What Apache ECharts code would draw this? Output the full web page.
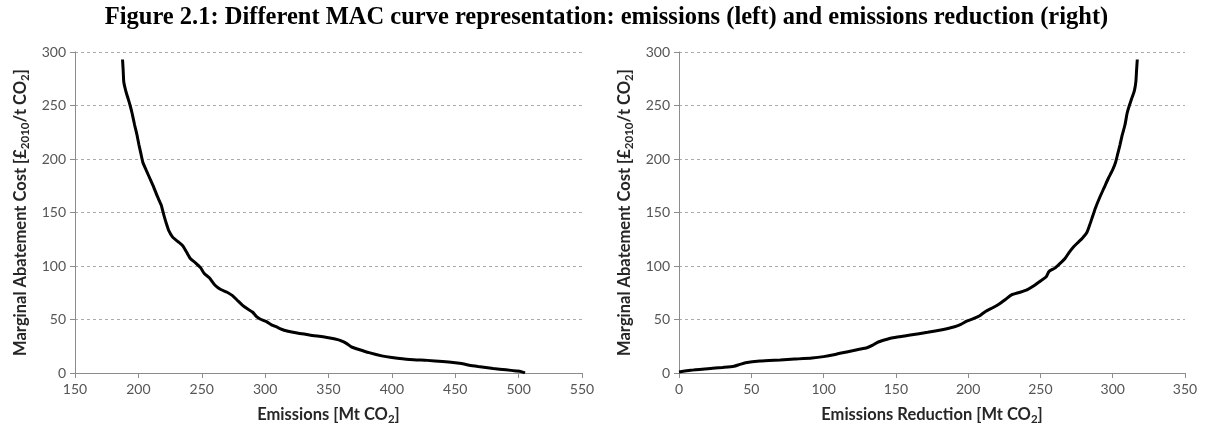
<!DOCTYPE html>
<html>
<head>
<meta charset="utf-8">
<style>
  html, body { margin: 0; padding: 0; background: #fff; }
  #chart { width: 1213px; height: 439px; }
</style>
<script src="https://cdn.jsdelivr.net/npm/echarts@6/dist/echarts.min.js"></script>
</head>
<body>
<div id="chart"></div>
<script>
// MAC curve against total emissions: [emissions Mt CO2, cost £2010/t CO2]
const emissionsCurve = [
  [187.5, 293], [188, 283], [188.5, 272], [190, 264], [192, 256], [193.5, 250],
  [195, 243], [197, 232], [199, 222], [200.5, 213], [202, 205], [203.5, 197],
  [206, 190], [209, 182], [212, 174], [215, 165], [218, 157], [220, 148],
  [222, 140], [224, 133], [227, 127], [231, 123], [235, 119], [238, 113],
  [241, 107], [245, 103], [249, 98.5], [252, 93], [256, 89], [260.5, 82],
  [265, 78], [270, 75.5], [274, 72.5], [278, 68], [282, 63.5], [286, 60],
  [290, 57], [293, 53], [296, 50.5], [301, 48], [305, 45], [309, 43],
  [315, 40], [322, 38], [335, 35.5], [350, 33], [358, 31], [362, 29],
  [365, 27], [368, 24.5], [374, 22], [382, 19], [392, 16], [400, 14.5],
  [414, 12.6], [428, 11.8], [440, 10.8], [450, 9.6], [456, 8.6], [461, 7.2],
  [468, 6], [480, 4.2], [490, 3], [498, 1.9], [502, 1.3], [504, 0.5], [505, 0]
];

// MAC curve against emissions reduction: [reduction Mt CO2, cost £2010/t CO2]
const reductionCurve = [
  [0, 1], [8, 2.5], [20, 4], [30, 5.2], [38, 6.3], [42, 8], [46, 9.6],
  [56, 11.2], [70, 12.2], [80, 13], [92, 14], [100, 15.3], [108, 17.3],
  [116, 19.7], [124, 22], [130, 23.6], [134, 26], [137, 28.5], [142, 30.8],
  [148, 33], [160, 35.5], [172, 38], [182, 40.5], [190, 43], [195, 45.5],
  [199, 48.5], [204, 51], [208, 53.5], [212, 57.5], [217, 61], [222, 65],
  [226, 69], [230, 73], [236, 75.5], [241, 78], [246, 82], [250, 86],
  [254, 90], [256, 95], [260, 98], [264, 103], [267, 107], [270, 113],
  [273, 118], [276, 122], [279, 126], [282, 131], [284, 138], [286, 146],
  [288, 154], [291, 164], [294, 173], [297, 182], [300, 190], [302, 197],
  [303.5, 205], [305, 213], [306.5, 222], [308.5, 232], [310, 243],
  [311.5, 250], [313, 256], [315, 264], [316, 272], [316.5, 283], [317, 293]
];

// Axis ranges
const costAxis = { min: 0, max: 300, step: 50 };
const emissionsAxis = { min: 150, max: 550, step: 50 };
const reductionAxis = { min: 0, max: 350, step: 50 };

const titleText = 'Figure 2.1: Different MAC curve representation: emissions (left) and emissions reduction (right)';
const costName = '{n|Marginal Abatement Cost [£}{s|2010}{n|/t CO}{s|2}{n|]}';
const emissionsName = '{n|Emissions [Mt CO}{s|2}{n|]}';
const reductionName = '{n|Emissions Reduction [Mt CO}{s|2}{n|]}';

const FONT = 'Lato, "Open Sans", sans-serif';
const axisGrey = '#8c8c8c';

const nameRich = {
  n: { fontFamily: FONT, fontSize: 16.5, fontWeight: 'bold', color: '#262626', lineHeight: 20 },
  s: { fontFamily: FONT, fontSize: 11.5, fontWeight: 'bold', color: '#262626', lineHeight: 11, verticalAlign: 'bottom' }
};

function xAxisDef(gridIndex, range, name) {
  return {
    type: 'value', gridIndex,
    min: range.min, max: range.max, interval: range.step,
    name, nameLocation: 'middle', nameGap: 32,
    nameTextStyle: { rich: nameRich },
    axisLine: { show: true, onZero: false, lineStyle: { color: axisGrey, width: 1 } },
    axisTick: { show: true, length: 5, lineStyle: { color: axisGrey } },
    axisLabel: { fontFamily: FONT, fontSize: 14, color: '#555555', margin: 9 },
    splitLine: { show: false }
  };
}

function yAxisDef(gridIndex) {
  return {
    type: 'value', gridIndex,
    min: costAxis.min, max: costAxis.max, interval: costAxis.step,
    name: costName, nameLocation: 'middle', nameGap: 44, nameRotate: 90,
    nameTextStyle: { rich: nameRich },
    axisLine: { show: true, lineStyle: { color: axisGrey, width: 1 } },
    axisTick: { show: true, length: 5, lineStyle: { color: axisGrey } },
    axisLabel: { fontFamily: FONT, fontSize: 14, color: '#555555', margin: 9 },
    splitLine: { show: true, lineStyle: { color: '#ababab', type: [3, 3], width: 1 } }
  };
}

function curve(index, data) {
  return {
    type: 'line', xAxisIndex: index, yAxisIndex: index,
    data, showSymbol: false, smooth: 0.2,
    lineStyle: { color: '#000', width: 3 },
    silent: true, animation: false
  };
}

const chart = echarts.init(document.getElementById('chart'), null, { renderer: 'canvas' });
chart.setOption({
  backgroundColor: '#fff',
  animation: false,
  title: {
    text: titleText, left: 'center', top: 0,
    textStyle: { fontFamily: '"Liberation Serif", "Times New Roman", serif', fontSize: 24.5, fontWeight: 'bold', color: '#000' }
  },
  grid: [
    { left: 75, top: 52, width: 507, height: 321, containLabel: false },
    { left: 679, top: 52, width: 506, height: 321, containLabel: false }
  ],
  xAxis: [
    xAxisDef(0, emissionsAxis, emissionsName),
    xAxisDef(1, reductionAxis, reductionName)
  ],
  yAxis: [yAxisDef(0), yAxisDef(1)],
  series: [curve(0, emissionsCurve), curve(1, reductionCurve)]
});
</script>
</body>
</html>
